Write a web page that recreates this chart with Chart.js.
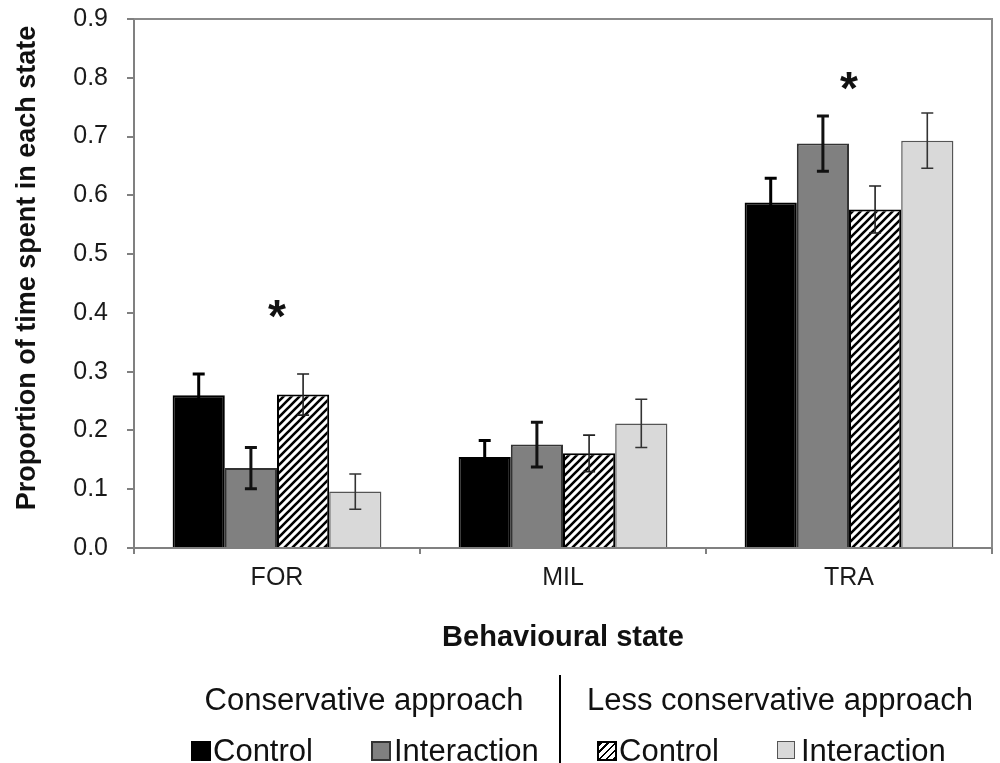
<!DOCTYPE html>
<html>
<head>
<meta charset="utf-8">
<script src="https://cdn.jsdelivr.net/npm/chart.js@4.4.1/dist/chart.umd.min.js"></script>
<style>
  body { margin: 0; background: #fff; }
  #wrap { position: relative; width: 1000px; height: 763px; overflow: hidden; font-family: 'Liberation Sans', Arial, sans-serif; color: #111; }
  #chart { position: absolute; left: 0; top: 0; }
  .txt { position: absolute; white-space: nowrap; font-size: 31px; line-height: 31px; }
  .center { width: 500px; text-align: center; }
  .sw { position: absolute; width: 16px; height: 16px; border: 2px solid #000; }
  #ytitle { position: absolute; left: -224px; top: 252px; width: 500px; height: 32px; line-height: 32px;
            text-align: center; font-weight: bold; font-size: 27px; transform: rotate(-90deg); }
  #divider { position: absolute; left: 559px; top: 675px; width: 2px; height: 88px; background: #000; }
</style>
</head>
<body>
<div id="wrap">
  <canvas id="chart" width="1000" height="763"></canvas>
  <div id="ytitle">Proportion of time spent in each state</div>
  <div class="txt center" style="left:114px; top:684px;">Conservative approach</div>
  <div class="txt center" style="left:530px; top:684px;">Less conservative approach</div>
  <div id="divider"></div>
  <div class="sw" style="left:191px; top:741px; background:#000;"></div>
  <div class="txt" style="left:213px; top:735px;">Control</div>
  <div class="sw" style="left:371px; top:741px; background:#808080; border-color:#333;"></div>
  <div class="txt" style="left:394px; top:735px;">Interaction</div>
  <div class="sw" style="left:597px; top:741px; background:repeating-linear-gradient(-45deg, #000 0 2px, #fff 2px 5px);"></div>
  <div class="txt" style="left:619px; top:735px;">Control</div>
  <div class="sw" style="left:777px; top:741px; background:#d9d9d9; border-color:#555; border-width:1.5px;"></div>
  <div class="txt" style="left:801px; top:735px;">Interaction</div>
</div>
<script>
// behavioural states
const categories = ['FOR', 'MIL', 'TRA'];

// conservative approach
const consControl = [0.260, 0.155, 0.588];
const consControlErr = [0.036, 0.028, 0.041];
const consInteraction = [0.136, 0.176, 0.688];
const consInteractionErr = [0.035, 0.038, 0.047];

// less conservative approach
const lessControl = [0.261, 0.161, 0.576];
const lessControlErr = [0.035, 0.031, 0.040];
const lessInteraction = [0.096, 0.212, 0.693];
const lessInteractionErr = [0.030, 0.041, 0.047];

// significance markers (height of the asterisk), null = none
const starValues = [0.405, null, 0.793];

const yMin = 0;
const yMax = 0.9;
const yStep = 0.1;

const seriesValues = [consControl, consInteraction, lessControl, lessInteraction];
const seriesErrors = [consControlErr, consInteractionErr, lessControlErr, lessInteractionErr];

const canvas = document.getElementById('chart');
const ctx = canvas.getContext('2d');

function makeHatch() {
    const c = document.createElement('canvas');
    c.width = 8;
    c.height = 8;
    const g = c.getContext('2d');
    g.fillStyle = '#fff';
    g.fillRect(0, 0, 8, 8);
    g.strokeStyle = '#000';
    g.lineWidth = 2.6;
    g.beginPath();
    g.moveTo(-2, 10); g.lineTo(10, -2);
    g.moveTo(-2, 2); g.lineTo(2, -2);
    g.moveTo(6, 10); g.lineTo(10, 6);
    g.stroke();
    return ctx.createPattern(c, 'repeat');
}

const errorBars = {
    id: 'errorBars',
    afterDatasetsDraw(chart) {
        const c = chart.ctx;
        const y = chart.scales.y;
        const widths = [3, 3, 1.6, 1.6];
        const colors = ['#000', '#111', '#222', '#333'];
        c.save();
        seriesErrors.forEach((errs, i) => {
            const meta = chart.getDatasetMeta(i);
            meta.data.forEach((bar, j) => {
                const v = seriesValues[i][j];
                const top = y.getPixelForValue(v + errs[j]);
                const bot = y.getPixelForValue(v - errs[j]);
                c.strokeStyle = colors[i];
                c.lineWidth = widths[i];
                c.beginPath();
                c.moveTo(bar.x, top); c.lineTo(bar.x, bot);
                c.moveTo(bar.x - 6, top); c.lineTo(bar.x + 6, top);
                c.moveTo(bar.x - 6, bot); c.lineTo(bar.x + 6, bot);
                c.stroke();
            });
        });
        // asterisks
        c.fillStyle = '#111';
        c.font = 'bold 46px "Liberation Sans", Arial, sans-serif';
        c.textAlign = 'center';
        c.textBaseline = 'alphabetic';
        starValues.forEach((s, j) => {
            if (s === null) return;
            const x = chart.scales.x.getPixelForValue(j);
            c.fillText('*', x, y.getPixelForValue(s) + 22);
        });
        c.restore();
    }
};

const frame = {
    id: 'frame',
    beforeDatasetsDraw(chart) {
        const {ctx: c, chartArea: a} = chart;
        c.save();
        c.strokeStyle = '#8a8a8a';
        c.lineWidth = 2;
        c.beginPath();
        c.moveTo(a.left, a.top);
        c.lineTo(a.right, a.top);
        c.lineTo(a.right, a.bottom);
        c.stroke();
        c.restore();
    }
};

const chart = new Chart(ctx, {
    type: 'bar',
    data: {
        labels: categories,
        datasets: [
            { label: 'Control', data: consControl, backgroundColor: '#000', borderColor: '#000', borderWidth: 2 },
            { label: 'Interaction', data: consInteraction, backgroundColor: '#808080', borderColor: '#333', borderWidth: 2 },
            { label: 'Control', data: lessControl, backgroundColor: makeHatch(), borderColor: '#000', borderWidth: 2 },
            { label: 'Interaction', data: lessInteraction, backgroundColor: '#d9d9d9', borderColor: '#555', borderWidth: 1.5 }
        ]
    },
    options: {
        responsive: false,
        devicePixelRatio: 1,
        animation: false,
        categoryPercentage: 0.73,
        barPercentage: 1.0,
        layout: { padding: { left: 0, top: 19, right: 8, bottom: 0 } },
        plugins: { legend: { display: false }, tooltip: { enabled: false } },
        scales: {
            x: {
                offset: true,
                grid: { offset: true, drawOnChartArea: false, tickLength: 6, color: '#808080', lineWidth: 2 },
                border: { color: '#808080', width: 2 },
                ticks: { color: '#1a1a1a', font: { size: 25, family: '"Liberation Sans", Arial, sans-serif' }, padding: 9 },
                title: {
                    display: true,
                    text: 'Behavioural state',
                    color: '#111',
                    font: { size: 29, weight: 'bold', family: '"Liberation Sans", Arial, sans-serif' },
                    padding: { top: 0, bottom: 108 }
                },
                afterFit(scale) { scale.height = 215; }
            },
            y: {
                min: yMin,
                max: yMax,
                ticks: {
                    stepSize: yStep,
                    color: '#1a1a1a',
                    padding: 19,
                    font: { size: 25, family: '"Liberation Sans", Arial, sans-serif' },
                    callback: v => v.toFixed(1)
                },
                grid: { drawOnChartArea: false, tickLength: 7, color: '#808080', lineWidth: 2 },
                border: { color: '#808080', width: 2 },
                afterFit(scale) {
                    scale.width = 134;
                    scale.paddingTop = 15;
                    scale.paddingBottom = 15;
                }
            }
        }
    },
    plugins: [frame, errorBars]
});
</script>
</body>
</html>
